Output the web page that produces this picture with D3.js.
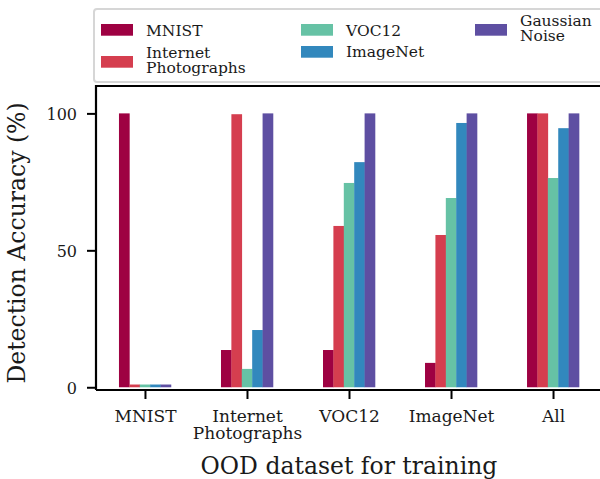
<!DOCTYPE html>
<html>
<head>
<meta charset="utf-8">
<script src="https://cdn.jsdelivr.net/npm/d3@7"></script>
<style>
  html, body { margin: 0; padding: 0; background: #ffffff; }
  svg { display: block; font-family: "DejaVu Serif", serif; }
</style>
</head>
<body>
<div id="chart"></div>
<script>
// Data
const trainSets = ["MNIST", "Internet Photographs", "VOC12", "ImageNet", "All"];
const testSets = ["MNIST", "Internet Photographs", "VOC12", "ImageNet", "Gaussian Noise"];
const colors = ["#9e0142", "#d53e4f", "#66c2a5", "#3288bd", "#5e4fa2"];

// detection accuracy (%) per test set, one value per training set
const mnistAcc = [100, 13.6, 13.6, 8.9, 100];
const internetAcc = [1, 99.7, 58.9, 55.6, 100];
const vocAcc = [1, 6.7, 74.6, 69.1, 76.4];
const imagenetAcc = [1, 20.9, 82.2, 96.5, 94.6];
const gaussianAcc = [1, 100, 100, 100, 100];

const yTicks = [0, 50, 100];

const seriesValues = [mnistAcc, internetAcc, vocAcc, imagenetAcc, gaussianAcc];

const width = 600, height = 479;
const margin = { left: 96, top: 86, bottom: 89 };
const plotW = 506;
const plotH = height - margin.top - margin.bottom;

const svg = d3.select("#chart").append("svg")
    .attr("width", width)
    .attr("height", height);

// Scales
const x = d3.scalePoint().domain(trainSets).range([0, plotW]).padding(0.48);
const xs = d3.scaleBand().domain(testSets).range([-26, 26]);
const y = d3.scaleLinear().domain([-1, 110]).range([plotH, 0]);

const g = svg.append("g")
    .attr("transform", `translate(${margin.left},${margin.top})`);

// Bars
const rows = [];
testSets.forEach((s, i) => {
    trainSets.forEach((t, j) => {
        rows.push({ train: t, test: s, value: seriesValues[i][j], color: colors[i] });
    });
});

g.append("g").selectAll("rect")
    .data(rows)
    .enter().append("rect")
    .attr("x", d => x(d.train) + xs(d.test))
    .attr("y", d => y(d.value))
    .attr("width", xs.bandwidth() + 0.3)
    .attr("height", d => y(0) - y(d.value))
    .attr("fill", d => d.color);

// Axes
const yAxis = g.append("g")
    .call(d3.axisLeft(y).tickValues(yTicks).tickSize(9).tickPadding(10).tickSizeOuter(0));
yAxis.select(".domain").remove();
yAxis.selectAll(".tick line").attr("stroke", "#000").attr("stroke-width", 2);
yAxis.selectAll(".tick text")
    .style("font-family", "DejaVu Serif")
    .style("font-size", "16px")
    .attr("fill", "#1a1a1a")
    .attr("dy", "0.36em");

const xAxis = g.append("g")
    .attr("transform", `translate(0,${plotH})`)
    .call(d3.axisBottom(x).tickSize(9).tickSizeOuter(0).tickFormat(""));
xAxis.select(".domain").remove();
xAxis.selectAll(".tick line").attr("stroke", "#000").attr("stroke-width", 2);

// multi line tick labels
xAxis.selectAll(".tick").each(function(d) {
    const words = d.split(" ");
    const t = d3.select(this).append("text")
        .attr("text-anchor", "middle")
        .attr("fill", "#1a1a1a")
        .style("font-family", "DejaVu Serif")
        .style("font-size", "17px");
    words.forEach((w, i) => {
        t.append("tspan").attr("x", 0).attr("y", 31.7 + i * 17.7).text(w);
    });
});

// Spines (left, top, bottom; right one falls just outside the picture)
g.append("path")
    .attr("d", `M0,${plotH}V0H${plotW}V${plotH}H0`)
    .attr("fill", "none")
    .attr("stroke", "#000")
    .attr("stroke-width", 2.2);

// Axis labels
svg.append("text")
    .attr("x", margin.left + plotW / 2)
    .attr("y", 474)
    .attr("text-anchor", "middle")
    .style("font-size", "23.5px")
    .attr("fill", "#1a1a1a")
    .text("OOD dataset for training");

svg.append("text")
    .attr("transform", "translate(24.5,243) rotate(-90)")
    .attr("text-anchor", "middle")
    .style("font-size", "23.5px")
    .attr("fill", "#1a1a1a")
    .text("Detection Accuracy (%)");

// Legend
const legend = svg.append("g");
legend.append("rect")
    .attr("x", 94)
    .attr("y", 9)
    .attr("width", 520)
    .attr("height", 73)
    .attr("rx", 3)
    .attr("fill", "#ffffff")
    .attr("stroke", "#d6d6d6")
    .attr("stroke-width", 2);

// x of patch, y of patch top, baseline of first text line
const legendPos = [
    [101, 24, 36],
    [101, 56, 58.3],
    [301, 24, 36],
    [301, 46, 57],
    [475, 24, 26]
];

testSets.forEach((s, i) => {
    const p = legendPos[i];
    legend.append("rect")
        .attr("x", p[0])
        .attr("y", p[1])
        .attr("width", 32)
        .attr("height", 11.7)
        .attr("fill", colors[i]);
    const t = legend.append("text")
        .attr("fill", "#1a1a1a")
        .style("font-size", "15.5px");
    s.split(" ").forEach((w, k) => {
        t.append("tspan").attr("x", p[0] + 45).attr("y", p[2] + k * 15).text(w);
    });
});
</script>
</body>
</html>
